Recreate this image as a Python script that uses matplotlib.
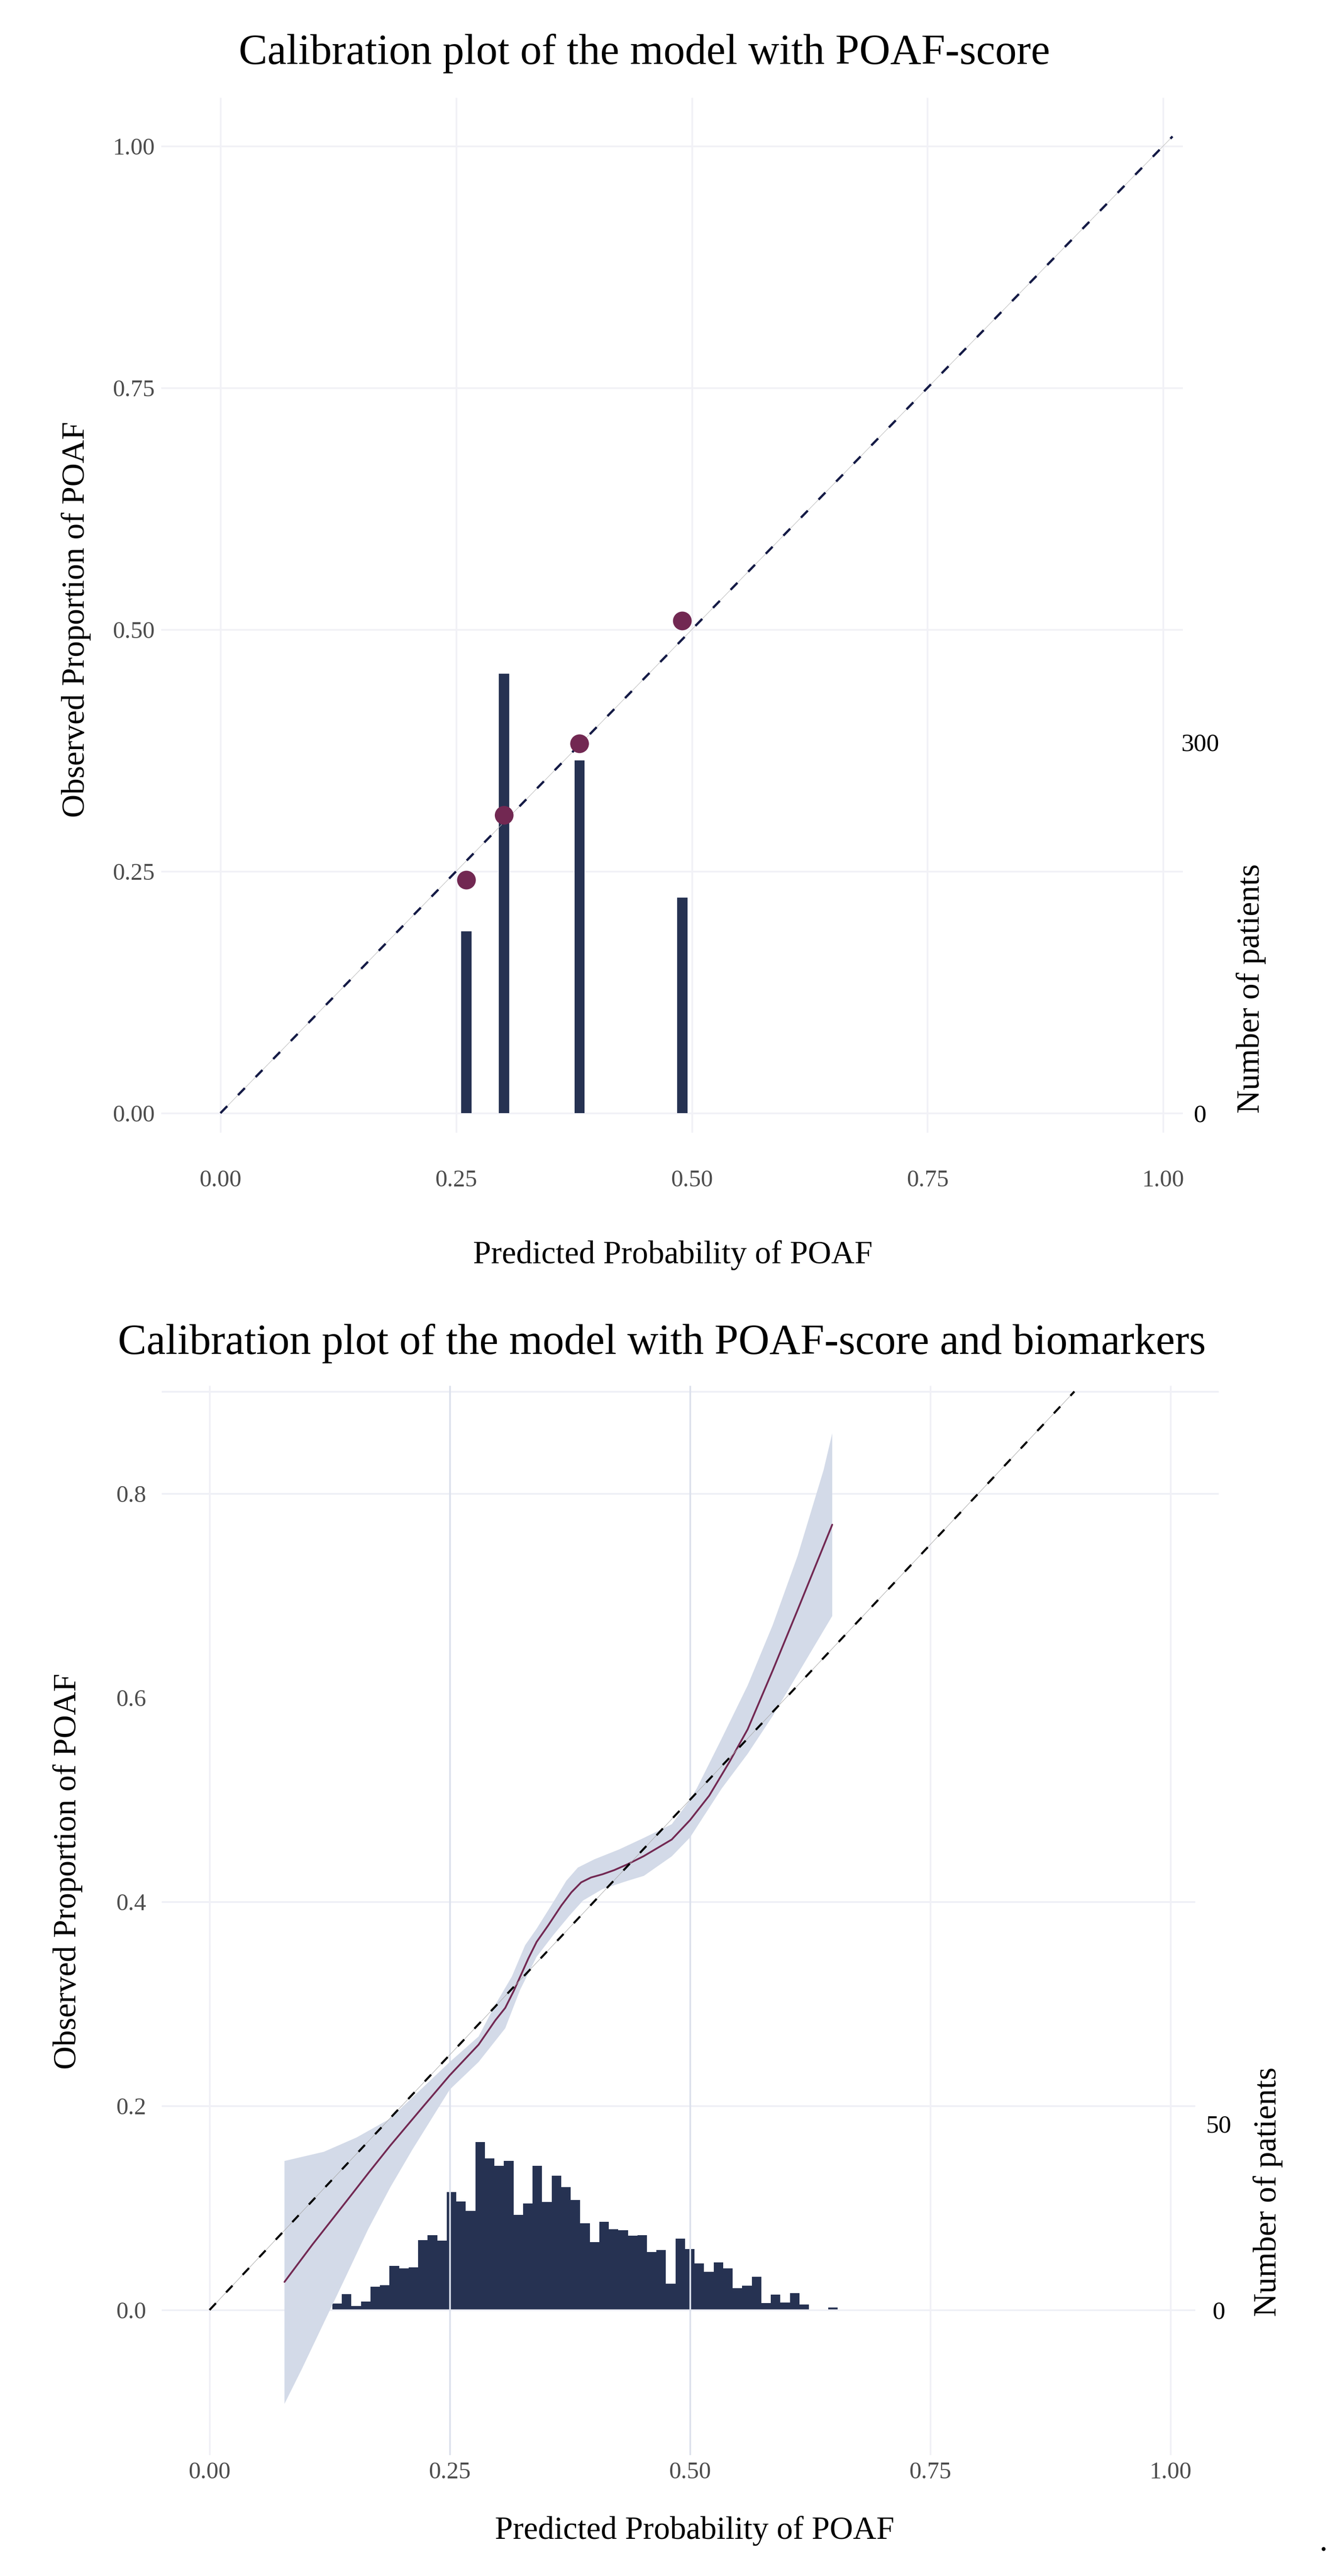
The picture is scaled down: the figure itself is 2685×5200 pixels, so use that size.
import numpy as np
import matplotlib.pyplot as plt

plt.rcParams['font.family'] = ['Liberation Serif', 'DejaVu Serif']

# ---- top panel: grouped calibration (POAF-score) ----
top_pred = [0.261, 0.301, 0.381, 0.490]
top_obs = [0.241, 0.308, 0.382, 0.509]
top_counts = [147, 355, 285, 174]
top_ticks = [0.0, 0.25, 0.5, 0.75, 1.0]
top_tick_labels = ['0.00', '0.25', '0.50', '0.75', '1.00']
top_count_ticks = [0, 300]
top_count_per_unit = 781.25   # patients per unit of the left axis

# ---- bottom panel: smoothed calibration (POAF-score + biomarkers) ----
smooth_x = [0.078, 0.107, 0.142, 0.166, 0.188, 0.222, 0.250, 0.280, 0.2974, 0.3077,
            0.3163, 0.3249, 0.3318, 0.3404, 0.3524, 0.3661, 0.3765, 0.3867, 0.397, 0.4091,
            0.4211, 0.4349, 0.452, 0.481, 0.500, 0.520, 0.541, 0.560, 0.586, 0.612, 0.648]
smooth_y = [0.0275, 0.064, 0.106, 0.135, 0.161, 0.199, 0.230, 0.260, 0.2838, 0.296,
            0.3121, 0.330, 0.3445, 0.3607, 0.3768, 0.3963, 0.4092, 0.419, 0.4238, 0.427,
            0.431, 0.4367, 0.4448, 0.461, 0.480, 0.504, 0.537, 0.569, 0.6265, 0.686, 0.7695]
band_hi_x = [0.078, 0.119, 0.153, 0.188, 0.222, 0.250, 0.280, 0.2974, 0.3146, 0.3284,
             0.3404, 0.3576, 0.3713, 0.3833, 0.4005, 0.4263, 0.452, 0.481, 0.500, 0.507,
             0.533, 0.560, 0.586, 0.612, 0.639, 0.648]
band_hi_y = [0.146, 0.155, 0.169, 0.1875, 0.218, 0.243, 0.268, 0.2992, 0.3267, 0.3574,
             0.3736, 0.3995, 0.4206, 0.4335, 0.4416, 0.4513, 0.4626, 0.476, 0.500, 0.511,
             0.560, 0.612, 0.671, 0.739, 0.823, 0.859]
band_lo_x = [0.078, 0.096, 0.119, 0.142, 0.165, 0.188, 0.211, 0.250, 0.280, 0.3077,
             0.3232, 0.3404, 0.3576, 0.3747, 0.3885, 0.4091, 0.4349, 0.452, 0.481, 0.500,
             0.533, 0.560, 0.586, 0.612, 0.648]
band_lo_y = [-0.092, -0.058, -0.0125, 0.033, 0.079, 0.120, 0.157, 0.216, 0.243, 0.276,
             0.3137, 0.3461, 0.3672, 0.3866, 0.4011, 0.4125, 0.4205, 0.4254, 0.4445, 0.463,
             0.511, 0.545, 0.582, 0.623, 0.680]
hist_start = 0.1278
hist_width = 0.00992
hist_counts = [1.7, 4.3, 1.0, 2.2, 6.3, 6.7, 11.8, 11.1, 11.4, 18.7,
               20.1, 18.6, 31.6, 29.1, 26.6, 45.0, 40.6, 38.6, 40.0, 25.5,
               28.6, 38.7, 28.9, 36.0, 33.0, 29.5, 23.3, 18.2, 23.7, 21.6,
               21.4, 19.9, 20.1, 15.6, 16.1, 7.1, 19.1, 16.4, 12.5, 10.2,
               12.8, 11.1, 5.8, 6.5, 8.9, 1.9, 4.1, 2.0, 4.5, 1.5,
               0, 0, 0.6]
bottom_x_ticks = [0.0, 0.25, 0.5, 0.75, 1.0]
bottom_x_labels = ['0.00', '0.25', '0.50', '0.75', '1.00']
bottom_y_ticks = [0.0, 0.2, 0.4, 0.6, 0.8]
bottom_y_labels = ['0.0', '0.2', '0.4', '0.6', '0.8']
bottom_count_ticks = [0, 50]
bottom_count_per_unit = 273.7

BAR = '#263252'
MAROON = '#722852'
BAND = '#D3DAE8'
TICK_GREY = '#4D4D4D'

W, H = 2685, 5200
fig = plt.figure(figsize=(W / 100, H / 100), dpi=100)


def px_axes(left, top, right, bottom):
    return fig.add_axes([left / W, 1 - bottom / H, (right - left) / W, (bottom - top) / H])


def style(ax, ax2, xpad, ypad, rpad):
    for a in (ax, ax2):
        for s in a.spines.values():
            s.set_visible(False)
        a.tick_params(length=0)
    ax.set_zorder(ax2.get_zorder() + 1)
    ax.patch.set_visible(False)
    ax.tick_params(axis='x', labelsize=35, labelcolor=TICK_GREY, pad=xpad)
    ax.tick_params(axis='y', labelsize=35, labelcolor=TICK_GREY, pad=ypad)
    ax2.tick_params(axis='y', labelsize=37, labelcolor='black', pad=rpad)
    for lbl in ax2.get_yticklabels():
        lbl.set_ha('center')


# ================= top panel =================
ax = px_axes(325.1, 197.4, 2388, 2344.6)
ax.set_xlim(-0.063, 1.021)
ax.set_ylim(-0.05, 1.05)
ax2 = ax.twinx()
ax2.set_ylim(-0.05 * top_count_per_unit, 1.05 * top_count_per_unit)
ax2.set_autoscale_on(False)

# grid sits under the bars in this panel
grid_top = '#F1F1F6'
ax2.hlines(top_ticks, -0.063, 1.021, color=grid_top, lw=2.5, zorder=0.5, transform=ax.transData)
ax2.vlines(top_ticks, -0.02, 1.05, color=grid_top, lw=2.5, zorder=0.5, transform=ax.transData)

ax2.bar(top_pred, top_counts, width=0.0109, color=BAR, zorder=1)
ax.plot([0, 1.01], [0, 1.01], color='#BBBBBB', lw=0.7, zorder=2)
ax.plot([0, 1.01], [0, 1.01], color='#141A45', lw=3.3, dashes=(4.3, 6.8), zorder=3)
ax.scatter(top_pred, top_obs, s=740, color=MAROON, edgecolors='none', zorder=4)

ax.set_xticks(top_ticks, top_tick_labels)
ax.set_yticks(top_ticks, top_tick_labels)
ax2.set_yticks(top_count_ticks, [str(v) for v in top_count_ticks])
ax.set_xlim(-0.063, 1.021)
ax.set_ylim(-0.05, 1.05)
ax2.set_ylim(-0.05 * top_count_per_unit, 1.05 * top_count_per_unit)
style(ax, ax2, xpad=12, ypad=9, rpad=25)

fig.text(1301 / W, 1 - 129 / H, 'Calibration plot of the model with POAF-score',
         fontsize=62.5, ha='center', va='baseline')
fig.text(1358 / W, 1 - 2550 / H, 'Predicted Probability of POAF',
         fontsize=47, ha='center', va='baseline')
fig.text(154 / W, 1 - 1250 / H, 'Observed Proportion of POAF',
         fontsize=47, rotation=90, ha='center', va='center')
fig.text(2526 / W, 1 - 2247 / H, 'Number of patients',
         fontsize=47, rotation=90, ha='center', va='bottom')

# ================= bottom panel =================
bx = px_axes(326, 2796.6, 2413.4, 4955.5)
bx.set_xlim(-0.05, 1.026)
bx.set_ylim(-0.142, 0.906)
bx2 = bx.twinx()
bx2.set_ylim(-0.142 * bottom_count_per_unit, 0.906 * bottom_count_per_unit)

grid_soft = '#EEEFF6'
grid_strong = '#DCE1EC'
bx.hlines([0.0, 0.2, 0.4], -0.05, 1.026, color=grid_soft, lw=2.5, zorder=0.5)
bx.hlines([0.8, 0.9], -0.05, 1.05, color=grid_soft, lw=2.5, zorder=0.5, clip_on=False)
for xv in bottom_x_ticks:
    c = grid_strong if xv in (0.25, 0.5) else '#F0F0F6'
    bx.vlines(xv, -0.142, 0.906, color=c, lw=2.5, zorder=0.5)

edges = hist_start + hist_width * np.arange(len(hist_counts) + 1)
bx2.stairs(hist_counts, edges, fill=True, color=BAR, zorder=1)

band_x = band_hi_x + band_lo_x[::-1]
band_y = band_hi_y + band_lo_y[::-1]
bx.fill(band_x, band_y, color=BAND, lw=0, zorder=1)
bx.plot(smooth_x, smooth_y, color=MAROON, lw=2.6, zorder=2,
        solid_joinstyle='round', solid_capstyle='round')
bx.plot([0, 0.9], [0, 0.9], color='#AAAAAA', lw=0.7, zorder=3)
bx.plot([0, 0.9], [0, 0.9], color='black', lw=3.0, dashes=(4.5, 7.2), zorder=3)

bx.set_xticks(bottom_x_ticks, bottom_x_labels)
bx.set_yticks(bottom_y_ticks, bottom_y_labels)
bx2.set_yticks(bottom_count_ticks, [str(v) for v in bottom_count_ticks])
style(bx, bx2, xpad=10, ypad=22, rpad=34)

fig.text(1336 / W, 1 - 2733 / H, 'Calibration plot of the model with POAF-score and biomarkers',
         fontsize=62.5, ha='center', va='baseline')
fig.text(1402 / W, 1 - 5125 / H, 'Predicted Probability of POAF',
         fontsize=47, ha='center', va='baseline')
fig.text(137 / W, 1 - 3777 / H, 'Observed Proportion of POAF',
         fontsize=47, rotation=90, ha='center', va='center')
fig.text(2560 / W, 1 - 4676 / H, 'Number of patients',
         fontsize=47, rotation=90, ha='center', va='bottom')

fig.text(2672 / W, 1 - 5150 / H, '.', fontsize=47, ha='center', va='baseline')

fig.savefig('out.png', dpi=100, facecolor='white')
